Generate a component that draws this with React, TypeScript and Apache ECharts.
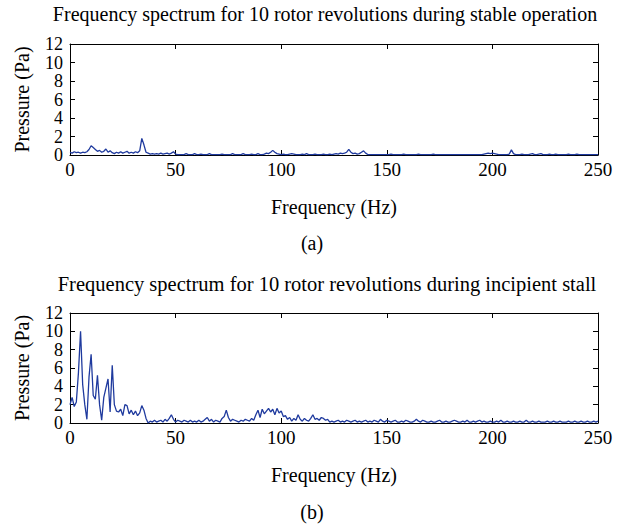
import React, { useEffect, useRef } from "react";
import * as echarts from "echarts";

const TITLE_A = "Frequency spectrum for 10 rotor revolutions during stable operation";
const TITLE_B = "Frequency spectrum for 10 rotor revolutions during incipient stall";
const X_NAME = "Frequency (Hz)";
const Y_NAME = "Pressure (Pa)";
const FREQ_STEP = 1; // Hz between samples, starting at 0 Hz

// Stable operation, 0..250 Hz
const stableValues = [
  0.3, 0.2, 0.35, 0.25, 0.3, 0.2, 0.3, 0.25, 0.35, 0.6,
  1.0, 0.8, 0.6, 0.4, 0.5, 0.3, 0.4, 0.65, 0.3, 0.45,
  0.25, 0.15, 0.3, 0.2, 0.35, 0.2, 0.3, 0.4, 0.2, 0.3,
  0.2, 0.35, 0.25, 0.45, 1.8, 1.1, 0.3, 0.2, 0.1, 0.15,
  0.1, 0.15, 0.1, 0.2, 0.1, 0.15, 0.2, 0.1, 0.2, 0.35,
  0.1, 0.05, 0.05, 0.05, 0.05, 0.15, 0.05, 0.05, 0.05, 0.15,
  0.05, 0.05, 0.1, 0.05, 0.05, 0.05, 0.15, 0.05, 0.05, 0.05,
  0.05, 0.05, 0.1, 0.05, 0.05, 0.05, 0.05, 0.15, 0.05, 0.05,
  0.05, 0.05, 0.15, 0.05, 0.05, 0.05, 0.1, 0.05, 0.05, 0.15,
  0.05, 0.05, 0.1, 0.2, 0.15, 0.3, 0.5, 0.3, 0.15, 0.1,
  0.05, 0.1, 0.05, 0.05, 0.1, 0.15, 0.1, 0.05, 0.05, 0.05,
  0.1, 0.05, 0.15, 0.05, 0.05, 0.05, 0.1, 0.05, 0.05, 0.05,
  0.1, 0.05, 0.05, 0.1, 0.05, 0.1, 0.15, 0.1, 0.2, 0.15,
  0.2, 0.3, 0.6, 0.3, 0.15, 0.2, 0.1, 0.15, 0.3, 0.45,
  0.2, 0.05, 0.05, 0.05, 0.05, 0.05, 0.05, 0.05, 0.05, 0.05,
  0.05, 0.05, 0.1, 0.05, 0.05, 0.05, 0.05, 0.05, 0.1, 0.05,
  0.05, 0.05, 0.05, 0.05, 0.05, 0.1, 0.05, 0.05, 0.05, 0.05,
  0.05, 0.05, 0.1, 0.05, 0.05, 0.05, 0.05, 0.05, 0.05, 0.05,
  0.05, 0.05, 0.05, 0.05, 0.05, 0.05, 0.05, 0.05, 0.05, 0.05,
  0.05, 0.05, 0.05, 0.05, 0.05, 0.05, 0.1, 0.15, 0.2, 0.15,
  0.2, 0.15, 0.1, 0.05, 0.05, 0.05, 0.05, 0.05, 0.1, 0.55,
  0.15, 0.05, 0.05, 0.05, 0.1, 0.05, 0.05, 0.05, 0.1, 0.15,
  0.05, 0.05, 0.1, 0.15, 0.05, 0.05, 0.05, 0.1, 0.05, 0.05,
  0.1, 0.05, 0.05, 0.05, 0.05, 0.05, 0.1, 0.05, 0.05, 0.05,
  0.1, 0.05, 0.05, 0.05, 0.05, 0.05, 0.05, 0.05, 0.05, 0.05,
  0.05,
];

// Incipient stall, 0..250 Hz
const stallValues = [
  2.0, 2.8, 1.8, 2.3, 5.5, 10.0, 4.2, 2.0, 0.4, 5.0,
  7.5, 3.0, 2.6, 5.2, 2.0, 0.3, 2.8, 3.8, 4.8, 1.2,
  6.3, 2.0, 1.3, 1.2, 1.5, 0.8, 2.0, 1.9, 1.0, 1.4,
  0.9, 1.3, 0.8, 1.1, 1.9, 1.4, 0.5, 0.0, 0.2, 0.1,
  0.3, 0.1, 0.2, 0.3, 0.1, 0.4, 0.2, 0.5, 0.9, 0.4,
  0.1, 0.3, 0.2, 0.1, 0.3, 0.2, 0.1, 0.3, 0.1, 0.2,
  0.1, 0.3, 0.1, 0.2, 0.4, 0.6, 0.2, 0.4, 0.1, 0.3,
  0.2, 0.1, 0.5, 0.7, 1.4, 0.6, 0.2, 0.4, 0.3, 0.2,
  0.1, 0.3, 0.2, 0.4, 0.3, 0.2, 0.5, 0.3, 0.9, 1.4,
  0.6, 1.5, 1.0, 1.3, 1.6, 1.2, 1.5, 0.9, 1.6, 1.1,
  1.3, 0.7, 0.8, 0.4, 0.6, 0.2, 0.5, 0.3, 0.9, 0.4,
  0.2, 0.5, 0.3, 0.2, 0.5, 0.9, 0.4, 0.5, 0.3, 0.6,
  0.5, 0.3, 0.4, 0.1, 0.2, 0.1, 0.2, 0.3, 0.1, 0.2,
  0.1, 0.3, 0.2, 0.1, 0.2, 0.3, 0.1, 0.2, 0.1, 0.2,
  0.3, 0.1, 0.2, 0.1, 0.3, 0.2, 0.1, 0.4, 0.2, 0.1,
  0.3, 0.2, 0.1, 0.2, 0.3, 0.1, 0.1, 0.2, 0.1, 0.3,
  0.2, 0.1, 0.1, 0.2, 0.4, 0.2, 0.1, 0.3, 0.2, 0.1,
  0.1, 0.2, 0.1, 0.1, 0.2, 0.3, 0.1, 0.1, 0.2, 0.1,
  0.1, 0.2, 0.3, 0.2, 0.1, 0.1, 0.2, 0.1, 0.3, 0.1,
  0.1, 0.2, 0.1, 0.2, 0.3, 0.1, 0.2, 0.1, 0.1, 0.2,
  0.1, 0.1, 0.2, 0.1, 0.3, 0.1, 0.1, 0.2, 0.1, 0.1,
  0.2, 0.1, 0.1, 0.2, 0.1, 0.1, 0.3, 0.1, 0.1, 0.2,
  0.1, 0.1, 0.2, 0.1, 0.1, 0.1, 0.2, 0.1, 0.1, 0.2,
  0.1, 0.1, 0.2, 0.1, 0.1, 0.1, 0.2, 0.1, 0.1, 0.2,
  0.1, 0.1, 0.2, 0.1, 0.1, 0.2, 0.1, 0.1, 0.2, 0.1,
  0.2,
];

const X_MIN = 0;
const X_MAX = 250;
const X_INTERVAL = 50;
const Y_MIN = 0;
const Y_MAX = 12;
const Y_INTERVAL = 2;

const FONT = "'Liberation Serif', 'DejaVu Serif', serif";
const LINE_COLOR = "#1f3a9e";

function toPairs(values: number[]): [number, number][] {
  return values.map((v, i) => [i * FREQ_STEP, v]);
}

export default function App() {
  const ref = useRef<HTMLDivElement>(null);

  useEffect(() => {
    if (!ref.current) return;
    const chart = echarts.init(ref.current, undefined, { renderer: "svg" });

    const mkLine = () => ({ show: true, onZero: false, lineStyle: { color: "#000", width: 1 } });
    const mkTick = () => ({ show: true, inside: true, length: 5, lineStyle: { color: "#000", width: 1 } });
    const labelStyle = {
      color: "#000",
      fontFamily: FONT,
      fontSize: 18,
      lineHeight: 16,
      showMinLabel: true,
      showMaxLabel: true,
      hideOverlap: false,
    };
    const nameStyle = { color: "#000", fontFamily: FONT, fontSize: 20 };

    const grids = [
      { left: 70, top: 44, width: 528, height: 111 },
      { left: 70, top: 313, width: 528, height: 110 },
    ];

    const xAxes: any[] = [];
    const yAxes: any[] = [];
    [0, 1].forEach((g) => {
      xAxes.push({
        type: "value",
        gridIndex: g,
        min: X_MIN,
        max: X_MAX,
        interval: X_INTERVAL,
        position: "bottom",
        axisLine: mkLine(),
        axisTick: mkTick(),
        axisLabel: { ...labelStyle, fontSize: 19, margin: 6 },
        splitLine: { show: false },
        name: X_NAME,
        nameLocation: "middle",
        nameGap: 42,
        nameTextStyle: nameStyle,
      });
      xAxes.push({
        type: "value",
        gridIndex: g,
        min: X_MIN,
        max: X_MAX,
        interval: X_INTERVAL,
        position: "top",
        axisLine: mkLine(),
        axisTick: mkTick(),
        axisLabel: { show: false },
        splitLine: { show: false },
      });
      yAxes.push({
        type: "value",
        gridIndex: g,
        min: Y_MIN,
        max: Y_MAX,
        interval: Y_INTERVAL,
        position: "left",
        axisLine: mkLine(),
        axisTick: mkTick(),
        axisLabel: { ...labelStyle, margin: 7 },
        splitLine: { show: false },
        name: Y_NAME,
        nameLocation: "middle",
        nameGap: 38,
        nameTextStyle: nameStyle,
      });
      yAxes.push({
        type: "value",
        gridIndex: g,
        min: Y_MIN,
        max: Y_MAX,
        interval: Y_INTERVAL,
        position: "right",
        axisLine: mkLine(),
        axisTick: mkTick(),
        axisLabel: { show: false },
        splitLine: { show: false },
      });
    });

    const textStyle = (t: string, x: number, y: number, size: number) => ({
      type: "text",
      x,
      y,
      style: {
        text: t,
        fill: "#000",
        font: `${size}px ${FONT}`,
        textAlign: "center",
        textVerticalAlign: "middle",
      },
    });

    chart.setOption({
      animation: false,
      backgroundColor: "#fff",
      grid: grids,
      xAxis: xAxes,
      yAxis: yAxes,
      graphic: [
        textStyle(TITLE_A, 325, 14, 20),
        textStyle(TITLE_B, 327, 284, 20.5),
        textStyle("(a)", 312, 243, 20),
        textStyle("(b)", 312, 512, 20),
      ],
      series: [
        {
          type: "line",
          xAxisIndex: 0,
          yAxisIndex: 0,
          data: toPairs(stableValues),
          showSymbol: false,
          lineStyle: { color: LINE_COLOR, width: 1.3 },
        },
        {
          type: "line",
          xAxisIndex: 2,
          yAxisIndex: 2,
          data: toPairs(stallValues),
          showSymbol: false,
          lineStyle: { color: LINE_COLOR, width: 1.3 },
        },
      ],
    });

    return () => chart.dispose();
  }, []);

  return (
    <div
      ref={ref}
      style={{ position: "fixed", left: 0, top: 0, width: 624, height: 529, background: "#fff" }}
    />
  );
}
